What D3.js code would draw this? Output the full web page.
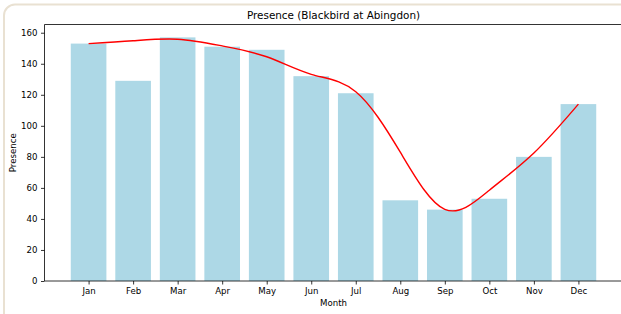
<!DOCTYPE html>
<html>
<head>
<meta charset="utf-8">
<script src="https://cdn.jsdelivr.net/npm/d3@7"></script>
<style>
  html, body { margin: 0; padding: 0; background: #fff; }
  svg { display: block; font-family: "DejaVu Sans", sans-serif; }
</style>
</head>
<body>
<svg id="chart" width="621" height="314"></svg>
<script>
const months = ['Jan', 'Feb', 'Mar', 'Apr', 'May', 'Jun', 'Jul', 'Aug', 'Sep', 'Oct', 'Nov', 'Dec']
const presence = [153, 129, 157, 151, 149, 132, 121, 52, 46, 53, 80, 114]
// smoothed trend (red line) at each month
const trend = [153, 154.8, 155.8, 151.5, 144.5, 133.2, 122, 83, 46.2, 58.5, 82.5, 114]
const yTicks = [0, 20, 40, 60, 80, 100, 120, 140, 160]

const $svg = d3.select('#chart')

const MARGIN = { top: 24.5, right: -1.5, bottom: 33, left: 44.5 }
const width = 621, height = 314
const boundedWidth = width - MARGIN.left - MARGIN.right
const boundedHeight = height - MARGIN.top - MARGIN.bottom

// frame round the figure
$svg.append('rect')
  .attr('x', 4).attr('y', 4.5)
  .attr('width', 640).attr('height', 340)
  .attr('rx', 11)
  .attr('fill', 'none')
  .attr('stroke', '#e9e1d2')
  .attr('stroke-width', 2)

const xScale = d3.scaleLinear()
  .domain([-0.99, 11.99])
  .range([0, boundedWidth])
const yScale = d3.scaleLinear()
  .domain([0, 165.3])
  .range([boundedHeight, 0])

const $g = $svg.append('g')
  .attr('transform', `translate(${MARGIN.left}, ${MARGIN.top})`)

$g.selectAll('.bar')
  .data(presence)
  .enter()
  .append('rect')
    .attr('class', 'bar')
    .attr('x', (d, i) => xScale(i - 0.4))
    .attr('width', xScale(0.8) - xScale(0))
    .attr('y', d => yScale(d))
    .attr('height', d => boundedHeight - yScale(d))
    .attr('fill', '#ADD8E6')

const line = d3.line()
  .x((d, i) => xScale(i))
  .y(d => yScale(d))
  .curve(d3.curveNatural)

$g.append('path')
  .datum(trend)
  .attr('d', line)
  .attr('fill', 'none')
  .attr('stroke', 'red')
  .attr('stroke-width', 1.4)

// axes
const xAxis = d3.axisBottom(xScale)
  .tickValues(d3.range(months.length))
  .tickFormat(i => months[i])
  .tickSize(3.5)
  .tickPadding(3.5)
const yAxis = d3.axisLeft(yScale)
  .tickValues(yTicks)
  .tickSize(3.5)
  .tickPadding(3.5)

const $x = $g.append('g')
  .attr('transform', `translate(0, ${boundedHeight})`)
  .call(xAxis)
const $y = $g.append('g').call(yAxis)

$g.selectAll('.domain').remove()
$g.selectAll('.tick line').attr('stroke', '#000').attr('stroke-width', 0.8)
$g.selectAll('.tick text')
  .attr('fill', '#000')
  .style('font-size', '8.6px')
  .style('font-family', '"DejaVu Sans", sans-serif')

// spines
$g.append('line').attr('x1', 0).attr('x2', 0).attr('y1', 0).attr('y2', boundedHeight)
  .attr('stroke', '#000').attr('stroke-width', 0.8)
$g.append('line').attr('x1', 0).attr('x2', boundedWidth).attr('y1', boundedHeight).attr('y2', boundedHeight)
  .attr('stroke', '#000').attr('stroke-width', 0.8)
$g.append('line').attr('x1', 0).attr('x2', boundedWidth).attr('y1', 0).attr('y2', 0)
  .attr('stroke', '#000').attr('stroke-width', 0.8)

// labels
$svg.append('text')
  .attr('x', MARGIN.left + boundedWidth / 2)
  .attr('y', 18.5)
  .attr('text-anchor', 'middle')
  .style('font-size', '10.4px')
  .text('Presence (Blackbird at Abingdon)')

$svg.append('text')
  .attr('x', MARGIN.left + boundedWidth / 2)
  .attr('y', 306)
  .attr('text-anchor', 'middle')
  .style('font-size', '8.6px')
  .text('Month')

$svg.append('text')
  .attr('transform', `translate(16, ${MARGIN.top + boundedHeight / 2}) rotate(-90)`)
  .attr('text-anchor', 'middle')
  .style('font-size', '8.6px')
  .text('Presence')
</script>
</body>
</html>
